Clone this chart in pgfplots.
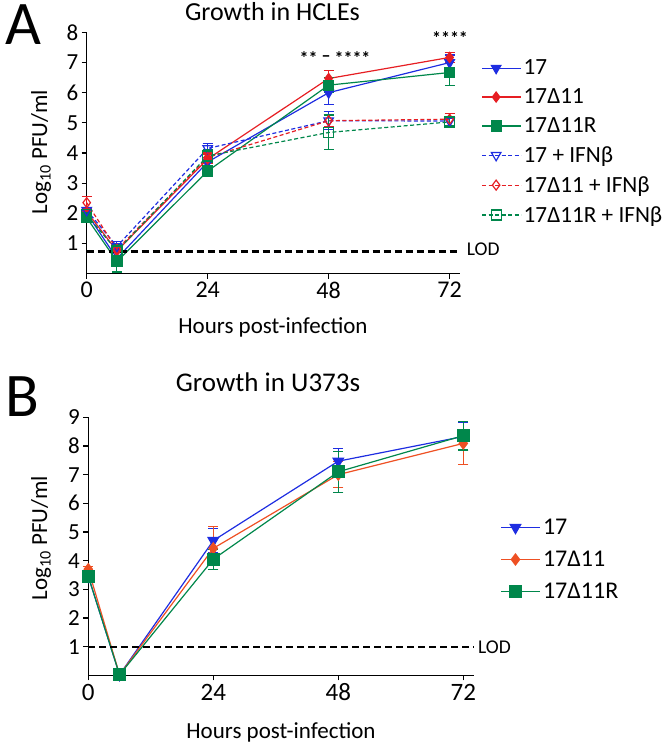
\documentclass[border=0pt]{standalone}
\usepackage{pgfplots}
\pgfplotsset{compat=1.18}
\usepackage{fontspec}
\setmainfont{Carlito}
\definecolor{cb}{RGB}{30,45,225}
\definecolor{cr}{RGB}{230,30,35}
\definecolor{cg}{RGB}{0,135,75}
\definecolor{co}{RGB}{238,80,35}
\newcommand{\fs}[1]{\fontsize{#1bp}{#1bp}\selectfont}
\begin{document}
\begin{tikzpicture}[x=1bp,y=1bp]
\path[use as bounding box] (0,0) rectangle (666,-749);
\pgfplotsset{
  gp/.style={scale only axis, axis lines*=left, tick align=outside,
    xmin=0, xmax=74, ymin=0, xtick={0,24,48,72},
    tick style={black, line width=1.1bp, major tick length=5bp},
    axis line style={line width=1.2bp},
    /pgf/number format/assume math mode=true, clip=false,
    every axis plot/.append style={line width=1.2bp},
    legend style={draw=none, fill=none, cells={anchor=west}, inner sep=0pt},
    legend image code/.code={\draw[mark repeat=2,mark phase=2] plot coordinates {(0bp,0bp) (14bp,0bp) (28bp,0bp)}; \path (0bp,0bp) -- (39bp,0bp);}},
  eb/.style={error bars/.cd, y dir=both, y explicit,
    error bar style={line width=1.1bp, solid},
    error mark options={rotate=90, mark size=5bp, line width=1.1bp, solid}},
  dsh/.style={dash pattern=on 4bp off 2.5bp},
}
% ---------------- Panel A ----------------
\begin{axis}[gp, at={(86.7bp,-273.5bp)}, anchor=south west,
  width=373bp, height=241.1bp, ymax=8, ytick={1,...,8},
  xticklabel style={font=\fs{24}}, yticklabel style={font=\fs{23}},
  legend style={at={(1.058,0.895)}, anchor=north west, font=\fs{23.2}, row sep=8.5bp}]
\addplot[cb, mark=triangle*, mark size=5.5bp, mark options={rotate=180, solid, fill=cb}, eb]
  coordinates {(0,2.0) +- (0,0.15) (6,0.5) +- (0,0.2) (24,3.7) +- (0,0.15) (48,6.0) +- (0,0.4) (72,7.0) +- (0,0.25)};
\addlegendentry{17}
\addplot[cr, mark=diamond*, mark size=5bp, mark options={solid, fill=cr}, eb]
  coordinates {(0,2.05) +- (0,0.1) (6,0.75) +- (0,0.15) (24,3.8) +- (0,0.15) (48,6.47) +- (0,0.27) (72,7.17) +- (0,0.17)};
\addlegendentry{17Δ11}
\addplot[cg, mark=square*, mark size=5bp, mark options={solid, fill=cg}, eb]
  coordinates {(0,1.85) +- (0,0.1) (6,0.4) +- (0,0.35) (24,3.4) +- (0,0.15) (48,6.25) +- (0,0.25) (72,6.67) +- (0,0.42)};
\addlegendentry{17Δ11R}
\addplot[cb, dsh, mark=triangle, mark size=5.5bp, mark options={rotate=180, solid, fill=white}, eb]
  coordinates {(0,2.1) +- (0,0.1) (6,0.9) +- (0,0.15) (24,4.15) +- (0,0.15) (48,5.07) +- (0,0.3) (72,5.06) +- (0,0.15)};
\addlegendentry{17 + IFNβ}
\addplot[cr, dsh, mark=diamond, mark size=5bp, mark options={solid, fill=white}, eb]
  coordinates {(0,2.35) +- (0,0.22) (6,0.8) +- (0,0.1) (24,3.85) +- (0,0.15) (48,5.07) +- (0,0.2) (72,5.12) +- (0,0.2)};
\addlegendentry{17Δ11 + IFNβ}
\addplot[cg, dsh, mark=square, mark size=5bp, mark options={solid, fill=white}, eb]
  coordinates {(0,1.95) +- (0,0.1) (6,0.75) +- (0,0.2) (24,3.9) +- (0,0.2) (48,4.68) +- (0,0.58) (72,5.03) +- (0,0.12)};
\addlegendentry{17Δ11R + IFNβ}
\addplot[black, line width=2.2bp, dash pattern=on 7bp off 4bp, forget plot] coordinates {(0,0.73) (74,0.73)};
\end{axis}
\node[anchor=base, font=\fs{62}] at (23.3,-45) {A};
\node[anchor=base, font=\fs{26}] at (272.5,-21) {Growth in HCLEs};
\node[anchor=base, rotate=90, font=\fs{23}] at (47,-152) {Log\textsubscript{10} PFU/ml};
\node[anchor=base, font=\fs{23}] at (273,-333.3) {Hours post-infection};
\node[anchor=base west, font=\fs{19.5}, inner sep=0pt] at (466.7,-255) {LOD};
\node[font=\bfseries\fs{18}, inner sep=0pt] at (335,-58) {** \raisebox{3bp}{--} ****};
\node[font=\bfseries\fs{18}, inner sep=0pt] at (450,-38) {****};
% ---------------- Panel B ----------------
\begin{axis}[gp, at={(88.3bp,-675.3bp)}, anchor=south west,
  width=385.4bp, height=258bp, ymax=9, ytick={1,...,9},
  xticklabel style={font=\fs{25}}, yticklabel style={font=\fs{23}},
  legend style={at={(1.07,0.614)}, anchor=north west, font=\fs{24}, row sep=11bp}]
\addplot[cb, mark=triangle*, mark size=6bp, mark options={rotate=180, solid, fill=cb}, eb]
  coordinates {(0,3.45) +- (0,0.1) (6,0.02) +- (0,0) (24,4.7) +- (0,0.42) (48,7.47) +- (0,0.45) (72,8.33) +- (0,0.48)};
\addlegendentry{17}
\addplot[co, mark=diamond*, mark size=5.5bp, mark options={solid, fill=co}, eb]
  coordinates {(0,3.7) +- (0,0.1) (6,0.02) +- (0,0) (24,4.43) +- (0,0.75) (48,7.0) +- (0,0.45) (72,8.09) +- (0,0.75)};
\addlegendentry{17Δ11}
\addplot[cg, mark=square*, mark size=6bp, mark options={solid, fill=cg}, eb]
  coordinates {(0,3.45) +- (0,0.1) (6,0.02) +- (0,0) (24,4.05) +- (0,0.35) (48,7.1) +- (0,0.72) (72,8.36) +- (0,0.5)};
\addlegendentry{17Δ11R}
\addplot[black, line width=2.2bp, dash pattern=on 7bp off 4bp, forget plot] coordinates {(0,1) (74,1)};
\end{axis}
\node[anchor=base, font=\fs{62}] at (22,-416.7) {B};
\node[anchor=base, font=\fs{27}] at (268,-391) {Growth in U373s};
\node[anchor=base, rotate=90, font=\fs{23}] at (47,-538) {Log\textsubscript{10} PFU/ml};
\node[anchor=base, font=\fs{23}] at (281,-738) {Hours post-infection};
\node[anchor=base west, font=\fs{19.5}, inner sep=0pt] at (478,-653) {LOD};
\end{tikzpicture}
\end{document}
